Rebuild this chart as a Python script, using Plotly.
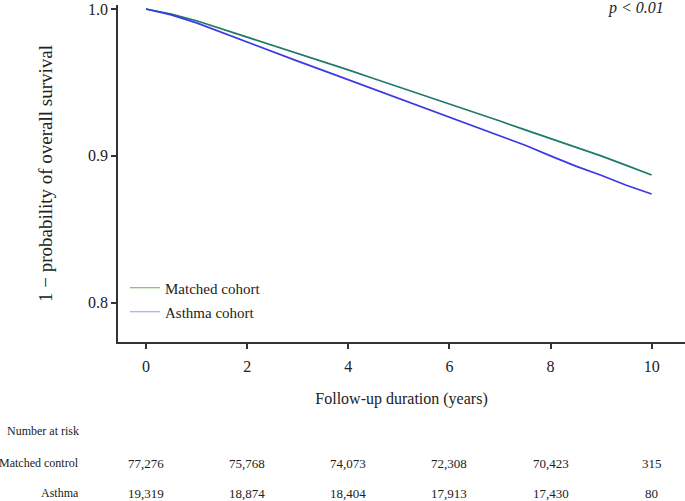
import plotly.graph_objects as go

# ---- data ----
years = [0, 0.5, 1, 1.5, 2, 2.5, 3, 3.5, 4, 4.5, 5, 5.5, 6, 6.5, 7, 7.5, 8, 8.5, 9, 9.5, 10]
matched = [1.000, 0.9965, 0.9920, 0.9865, 0.9810, 0.9755, 0.9700, 0.9643, 0.9585, 0.9527,
           0.9470, 0.9412, 0.9353, 0.9295, 0.9237, 0.9177, 0.9118, 0.9060, 0.9000, 0.8935, 0.8870]
asthma = [1.000, 0.9960, 0.9905, 0.9840, 0.9770, 0.9708, 0.9645, 0.9582, 0.9518, 0.9455,
          0.9392, 0.9328, 0.9264, 0.9200, 0.9138, 0.9072, 0.9000, 0.8930, 0.8868, 0.8800, 0.8740]

risk_times = [0, 2, 4, 6, 8, 10]
risk_matched = ["77,276", "75,768", "74,073", "72,308", "70,423", "315"]
risk_asthma = ["19,319", "18,874", "18,404", "17,913", "17,430", "80"]

x_ticks = [0, 2, 4, 6, 8, 10]
y_ticks = [0.8, 0.9, 1.0]

FONT = "Liberation Serif, Times New Roman, serif"
C_MATCH = "#1f7a6b"
C_ASTH = "#3a3ae2"
TXT = "#222"

fig = go.Figure()
fig.add_trace(go.Scatter(x=years, y=matched, mode="lines", line=dict(color=C_MATCH, width=1.7),
                         showlegend=False, name="Matched cohort"))
fig.add_trace(go.Scatter(x=years, y=asthma, mode="lines", line=dict(color=C_ASTH, width=1.7),
                         showlegend=False, name="Asthma cohort"))
# legend entries
fig.add_trace(go.Scatter(x=[None], y=[None], mode="lines", line=dict(color="#6ea85c", width=1),
                         name="Matched cohort", legend="legend"))
fig.add_trace(go.Scatter(x=[None], y=[None], mode="lines", line=dict(color="#9a9aee", width=1),
                         name="Asthma cohort", legend="legend2"))

W, H = 685, 501
L, R, T, B = 118, 0, 5, 159
pw, ph = W - L - R, H - T - B

def px(xp):
    return (xp - L) / pw

def py(yp):
    return (H - B - yp) / ph

ann = []
ann.append(dict(text="<i>p < 0.01</i>", x=px(636), y=py(8), xref="paper", yref="paper",
                xanchor="center", yanchor="middle",
                showarrow=False, font=dict(family=FONT, size=16, color=TXT)))
for label, ypix in [("Number at risk", 431), ("Matched control", 463), ("Asthma", 493)]:
    ann.append(dict(text=label, x=px(81), y=py(ypix), xref="paper", yref="paper",
                    xanchor="right", yanchor="middle", showarrow=False,
                    font=dict(family=FONT, size=12, color=TXT)))
for t, a, b in zip(risk_times, risk_matched, risk_asthma):
    ann.append(dict(text=a, x=t, y=py(463), xref="x", yref="paper", showarrow=False,
                    xanchor="center", yanchor="middle",
                    font=dict(family=FONT, size=13, color=TXT)))
    ann.append(dict(text=b, x=t, y=py(493), xref="x", yref="paper", showarrow=False,
                    xanchor="center", yanchor="middle",
                    font=dict(family=FONT, size=13, color=TXT)))

leg_common = dict(bgcolor="rgba(0,0,0,0)", borderwidth=0, xanchor="left", yanchor="middle",
                  font=dict(family=FONT, size=15, color=TXT))

fig.update_layout(
    width=W, height=H,
    margin=dict(l=L, r=R, t=T, b=B, autoexpand=False),
    paper_bgcolor="white", plot_bgcolor="white",
    font=dict(family=FONT, size=16, color=TXT),
    xaxis=dict(range=[-0.554, 10.66], tickvals=x_ticks, ticks="outside", ticklen=5,
               tickwidth=1.5, tickcolor="#333", showline=True, linecolor="#333", linewidth=1.8,
               showgrid=False, zeroline=False, ticklabelstandoff=4,
               title=dict(text="Follow-up duration (years)", standoff=19,
                          font=dict(family=FONT, size=16, color=TXT)),
               tickfont=dict(family=FONT, size=16, color=TXT)),
    yaxis=dict(range=[0.7733, 1.0027], tickvals=y_ticks, tickformat=".1f", ticks="outside",
               ticklen=5, tickwidth=1.5, tickcolor="#333", showline=True, linecolor="#333",
               linewidth=1.8, showgrid=False, zeroline=False,
               title=dict(text="1 \u2212 probability of overall survival", standoff=30,
                          font=dict(family=FONT, size=19, color=TXT)),
               tickfont=dict(family=FONT, size=16, color=TXT)),
    legend=dict(x=px(125), y=py(288), **leg_common),
    legend2=dict(x=px(125), y=py(312), **leg_common),
    annotations=ann,
)

fig.write_html("out.html", config={"displayModeBar": False},
               post_script="document.body.style.margin='0';")
